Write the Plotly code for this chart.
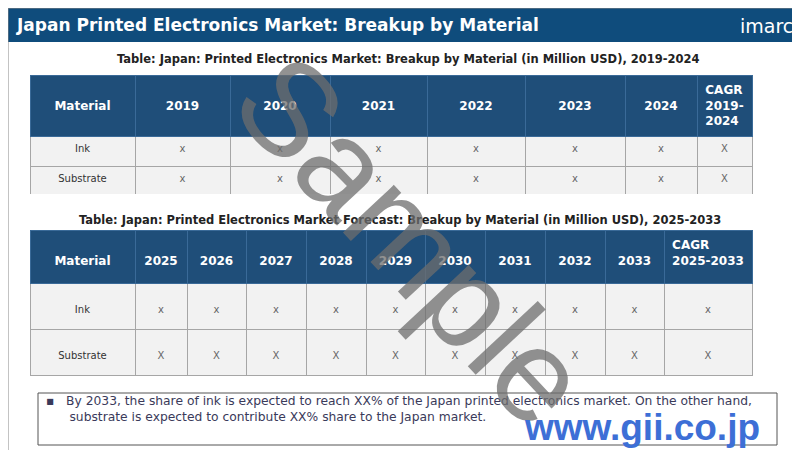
import plotly.graph_objects as go

W, H = 800, 450

# table 1 data
cols1 = ["Material", "2019", "2020", "2021", "2022", "2023", "2024", "CAGR<br>2019-<br>2024"]
materials = ["Ink", "Substrate"]
vals1 = [["x", "x"]] * 6 + [["X", "X"]]
widths1 = [105, 95, 100, 97, 98, 100, 72, 55]

# table 2 data
cols2 = ["Material", "2025", "2026", "2027", "2028", "2029", "2030", "2031", "2032", "2033", "CAGR<br>2025-2033"]
vals2 = [["x", "X"]] * 10
widths2 = [105, 52, 59, 60, 60, 59, 60, 60, 60, 59, 88]

def px_x(x):
    return x / W

def px_y(y):
    return 1 - y / H

HDR = "#1f4e79"
ROW = "#f2f2f2"
LINE = "#a6a6a6"
FONT = "DejaVu Sans"
OFF = 8  # table domain padding
NB = "\u00a0<br>"  # blank line to push text down (tables are top aligned)

def hdr(c, pad):
    return NB * pad + "<b>%s</b>" % c

fig = go.Figure()

fig.add_trace(go.Table(
    domain=dict(x=[px_x(30 - OFF), px_x(752 - OFF)], y=[px_y(194 - OFF), px_y(75 - OFF)]),
    columnwidth=widths1,
    header=dict(values=[hdr(c, 0 if "<br>" in c else 1) for c in cols1], fill_color=HDR, height=58,
                line=dict(color="#3a6a98", width=1),
                font=dict(family=FONT, size=12, color="white"), align="center"),
    cells=dict(values=[materials] + vals1, fill_color=ROW, height=30,
               line=dict(color=LINE, width=1),
               font=dict(family=FONT, size=10, color=["#333"] + ["#666"] * 7), align="center"),
))

fig.add_trace(go.Table(
    domain=dict(x=[px_x(30 - OFF), px_x(752 - OFF)], y=[px_y(378 - OFF), px_y(230 - OFF)]),
    columnwidth=widths2,
    header=dict(values=[hdr(c, 0) if "<br>" in c else NB + "<b>%s</b>" % c for c in cols2],
                fill_color=HDR, height=53,
                line=dict(color="#3a6a98", width=1),
                font=dict(family=FONT, size=12, color="white"), align="center"),
    cells=dict(values=[[NB + m for m in materials]] + [[NB + v for v in col] for col in vals2],
               fill_color=ROW, height=46,
               line=dict(color=LINE, width=1),
               font=dict(family=FONT, size=10, color=["#333"] + ["#666"] * 10), align="center"),
))

shapes = [
    dict(type="rect", xref="paper", yref="paper", x0=0, x1=1, y0=px_y(34), y1=1,
         fillcolor="#0f4c7c", line=dict(width=0), layer="below"),
    dict(type="rect", xref="paper", yref="paper", x0=px_x(30), x1=px_x(769), y0=px_y(437), y1=px_y(385),
         fillcolor="white", line=dict(color="#555", width=1)),
    dict(type="rect", xref="paper", yref="paper", x0=px_x(34), x1=px_x(766), y0=px_y(447), y1=px_y(442),
         fillcolor="#1f4e79", line=dict(width=0)),
    dict(type="rect", xref="paper", yref="paper", x0=0, x1=px_x(799), y0=0, y1=1,
         line=dict(color="#888", width=1)),
]

ann = [
    dict(text="<b>Japan Printed Electronics Market: Breakup by Material</b>", x=px_x(6), y=px_y(17),
         xanchor="left", font=dict(family=FONT, size=17, color="white")),
    dict(text="imarc", x=px_x(787), y=px_y(18), xanchor="right",
         font=dict(family="DejaVu Sans", size=19, color="white")),
    dict(text="<b>Table: Japan: Printed Electronics Market: Breakup by Material (in Million USD), 2019-2024</b>",
         x=px_x(400), y=px_y(51), xanchor="center", font=dict(family=FONT, size=11.5, color="#222")),
    dict(text="<b>Table: Japan: Printed Electronics Market Forecast: Breakup by Material (in Million USD), 2025-2033</b>",
         x=px_x(392), y=px_y(212), xanchor="center", font=dict(family=FONT, size=11.5, color="#222")),
    dict(text="▪   By 2033, the share of ink is expected to reach XX% of the Japan printed electronics market. On the other hand,<br>"
              "      substrate is expected to contribute XX% share to the Japan market.",
         x=px_x(36), y=px_y(401), xanchor="left", align="left",
         font=dict(family=FONT, size=12.3, color="#3a3a5a")),
    dict(text="Sample", x=px_x(405), y=px_y(232), xanchor="center", textangle=47,
         font=dict(family="Liberation Sans", size=132, color="rgba(110,110,110,0.75)")),
    dict(text="<b>www.gii.co.jp</b>", x=px_x(634), y=px_y(419), xanchor="center",
         font=dict(family="Liberation Sans", size=37, color="#3d6fd6")),
]
for a in ann:
    a.update(xref="paper", yref="paper", showarrow=False)
    a.setdefault("yanchor", "middle")

fig.update_layout(width=W, height=H, margin=dict(l=0, r=0, t=0, b=0),
                  paper_bgcolor="white", shapes=shapes, annotations=ann)

fig.write_html("out.html")
